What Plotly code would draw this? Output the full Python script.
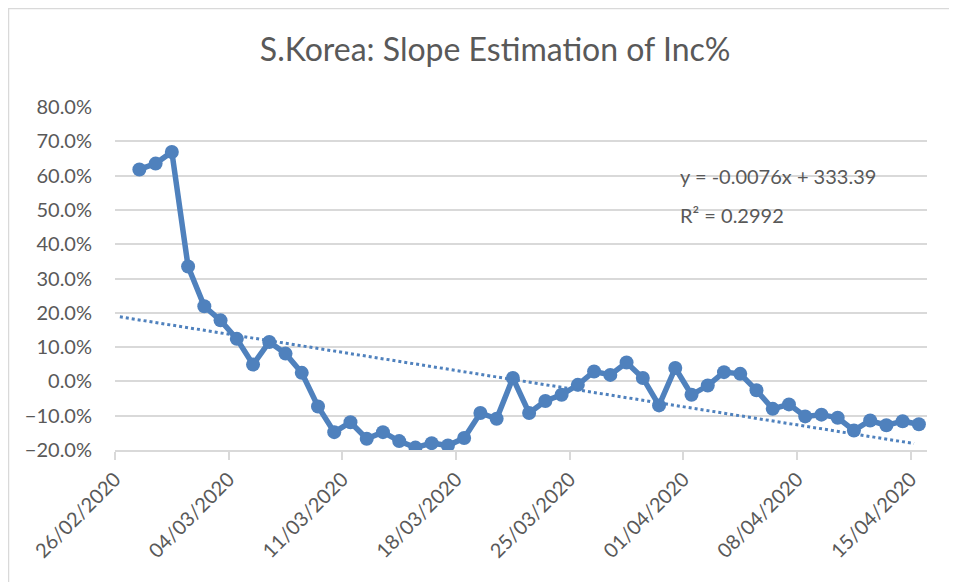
import numpy as np
import pandas as pd
import plotly.graph_objects as go

# daily slope of incidence %, South Korea, 27/02/2020 - 15/04/2020
dates = pd.date_range("2020-02-27", "2020-04-15", freq="D")
inc_pct = [
    61.8, 63.5, 66.9, 33.5, 21.9, 17.8, 12.4, 4.9, 11.5, 8.1,
    2.5, -7.3, -14.8, -11.9, -16.7, -14.8, -17.4, -19.3, -18.0, -18.7,
    -16.5, -9.2, -10.9, 1.0, -9.2, -5.7, -3.9, -1.0, 2.9, 1.9,
    5.5, 1.0, -7.0, 3.9, -3.9, -1.2, 2.7, 2.2, -2.6, -8.0,
    -6.7, -10.2, -9.7, -10.6, -14.3, -11.4, -12.8, -11.6, -12.5,
]
tick_dates = pd.date_range("2020-02-26", "2020-04-15", freq="7D")

y = np.array(inc_pct) / 100
x_mid = dates + pd.Timedelta(hours=12)

# linear trend fitted on day number
day_num = np.arange(len(y)) + 1.5
slope, intercept = np.polyfit(day_num, y, 1)
trend_days = np.array([0.3, 49.2])
trend_x = pd.Timestamp("2020-02-26") + pd.to_timedelta(trend_days, unit="D")
trend_y = slope * (trend_days + 0.5) + intercept

grey = "#595959"
grid = "#d9d9d9"
blue = "#4f81bd"
font = "Lato, 'Open Sans', sans-serif"

# page has an 8px body margin, so margins are set relative to that
ml, mr, mt, mb = 107, 38, 99, 140
pw, ph = 957 - ml - mr, 582 - mt - mb

fig = go.Figure()
fig.add_trace(
    go.Scatter(
        x=x_mid, y=y, mode="lines+markers",
        line=dict(color=blue, width=5.5),
        marker=dict(color=blue, size=14),
        showlegend=False, hoverinfo="x+y",
    )
)
fig.add_trace(
    go.Scatter(
        x=trend_x, y=trend_y, mode="lines",
        line=dict(color=blue, width=3, dash="dot"),
        showlegend=False, hoverinfo="skip",
    )
)

fig.update_layout(
    width=957,
    height=582,
    margin=dict(l=ml, r=mr, t=mt, b=mb),
    paper_bgcolor="white",
    plot_bgcolor="white",
    font=dict(family=font, color=grey, size=20),
    title=dict(
        text="S.Korea: Slope Estimation of Inc%",
        x=0.509, xanchor="center", y=0.928, yanchor="middle",
        font=dict(size=32, color=grey, family=font),
    ),
    xaxis=dict(
        type="date",
        range=["2020-02-26", "2020-04-16"],
        tickvals=tick_dates,
        ticktext=[d.strftime("%d/%m/%Y") for d in tick_dates],
        tickangle=-45,
        ticks="outside", ticklen=8, tickcolor=grid, tickwidth=1.5,
        showline=True, linecolor=grid, linewidth=1.5,
        showgrid=False, zeroline=False,
        tickfont=dict(size=20, color=grey),
    ),
    yaxis=dict(
        range=[-0.2, 0.8],
        dtick=0.1,
        tickformat=".1%",
        showgrid=True, gridcolor=grid, gridwidth=1.5,
        zeroline=False, showline=False,
        ticks="", ticklabelstandoff=22,
        tickfont=dict(size=20, color=grey),
    ),
    annotations=[
        dict(
            text="y = -0.0076x + 333.39", xref="paper", yref="paper",
            x=0.693, y=0.799, xanchor="left", yanchor="middle",
            showarrow=False, font=dict(size=20, color=grey),
        ),
        dict(
            text="R² = 0.2992", xref="paper", yref="paper",
            x=0.693, y=0.685, xanchor="left", yanchor="middle",
            showarrow=False, font=dict(size=20, color=grey),
        ),
    ],
    shapes=[
        dict(
            type="rect", xref="paper", yref="paper",
            x0=-ml / pw, x1=1.1, y0=-mb / ph - 0.1, y1=1 + mt / ph,
            line=dict(color=grid, width=2.5), layer="below",
        ),
    ],
)

fig.write_html("out.html")
